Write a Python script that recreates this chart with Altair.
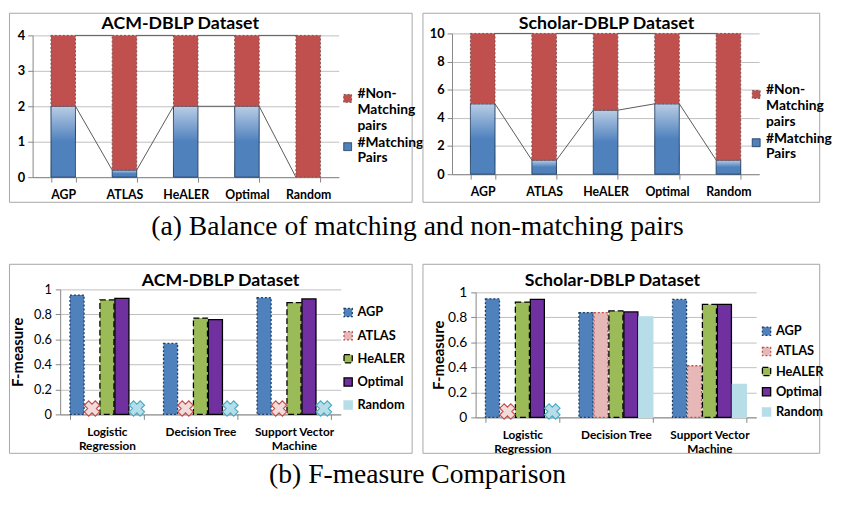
import altair as alt
import pandas as pd

# ---------------- data ----------------
methods = ["AGP", "ATLAS", "HeALER", "Optimal", "Random"]
pair_series = ["#Non-Matching pairs", "#Matching Pairs"]
acm_matching = [2.0, 0.2, 2.0, 2.0, 0.0]
acm_total = [4.0, 4.0, 4.0, 4.0, 4.0]
scholar_matching = [5.0, 1.0, 4.55, 5.0, 1.0]
scholar_total = [10.0, 10.0, 10.0, 10.0, 10.0]

classifiers = ["Logistic Regression", "Decision Tree", "Support Vector Machine"]
fseries = ["AGP", "ATLAS", "HeALER", "Optimal", "Random"]
acm_agp = [0.955, 0.568, 0.934]
acm_atlas = [0.0, 0.0, 0.0]
acm_healer = [0.916, 0.771, 0.895]
acm_optimal = [0.929, 0.758, 0.924]
acm_random = [0.0, 0.0, 0.0]
sch_agp = [0.948, 0.838, 0.943]
sch_atlas = [0.0, 0.838, 0.413]
sch_healer = [0.922, 0.851, 0.903]
sch_optimal = [0.943, 0.843, 0.903]
sch_random = [0.0, 0.804, 0.264]

caption_a = "(a) Balance of matching and non-matching pairs"
caption_b = "(b) F-measure Comparison"

# ---------------- style ----------------
FONT = "Lato"
SERIF = "Liberation Serif"
AXIS_GRAY = "#868686"
GRID_GRAY = "#BFBFBF"
GRAD = {"gradient": "linear", "x1": 0, "y1": 0, "x2": 0, "y2": 1,
        "stops": [{"offset": 0, "color": "#B9CDE5"},
                  {"offset": 0.5, "color": "#4F81BD"},
                  {"offset": 1, "color": "#4F81BD"}]}
ffill = ["#4F81BD", "#E6B9B8", "#9BBB59", "#7030A0", "#B7DEE8"]
fstroke = ["#1F3F66", "#C0504D", "#000000", "#000000", "#B7DEE8"]
fdash = [[2, 2], [2, 2], [6, 3], [1, 0], [1, 0]]
MARK_Y = 0.047


def text_layer(txt, x, y, font, size, weight):
    return alt.Chart(pd.DataFrame({"t": [txt]})).mark_text(
        font=font, fontSize=size, fontWeight=weight, color="#000000",
        align="center", baseline="middle"
    ).encode(text="t:N", x=alt.value(x), y=alt.value(y))


def balance_panel(title, matching, total, ymax, ystep, W, H, px, py, tpos, lpos, cap=None):
    rows = []
    for m, mv, tv in zip(methods, matching, total):
        rows.append({"method": m, "series": pair_series[1], "lo": 0.0, "hi": mv})
        rows.append({"method": m, "series": pair_series[0], "lo": mv, "hi": tv})
    df = pd.DataFrame(rows)
    df = df[df["hi"] > df["lo"]]
    seg = pd.DataFrame({"a": methods[:-1], "b": methods[1:],
                        "m0": matching[:-1], "m1": matching[1:],
                        "t0": total[:-1], "t1": total[1:]})
    xs = alt.Scale(domain=methods, range=list(px), paddingInner=0.6, paddingOuter=0.3)
    ys = alt.Scale(domain=[0, ymax], range=[py[1], py[0]], nice=False, zero=True)
    xaxis = alt.Axis(title=None, offset=-(H - py[1]), tickBand="extent", labelAngle=0,
                     labelFont=FONT, labelFontSize=12.5, labelFontWeight="bold",
                     labelColor="#000000", labelPadding=7, tickSize=5,
                     tickColor=AXIS_GRAY, domainColor=AXIS_GRAY, grid=False)
    yaxis = alt.Axis(title=None, offset=-px[0], values=list(range(0, ymax + 1, ystep)),
                     labelFont=FONT, labelFontSize=13, labelFontWeight="bold",
                     labelColor="#000000", labelPadding=3, tickSize=5,
                     tickColor=AXIS_GRAY, domainColor=AXIS_GRAY,
                     grid=True, gridColor=GRID_GRAY)
    legend = alt.Legend(orient="none", legendX=lpos[0], legendY=lpos[1], title=None,
                        symbolType="square", symbolSize=64, symbolStrokeColor="#404040",
                        symbolStrokeWidth=1, labelFont=FONT, labelFontSize=14,
                        labelFontWeight="bold", labelColor="#000000", labelOffset=3,
                        labelBaseline="alphabetic", labelLimit=200, rowPadding=3,
                        labelExpr="datum.label == '#Matching Pairs' ? ['#Matching', 'Pairs'] : ['#Non-', 'Matching', 'pairs']")
    bars = alt.Chart(df).mark_bar(strokeWidth=1).encode(
        x=alt.X("method:N", scale=xs, axis=xaxis),
        y=alt.Y("lo:Q", scale=ys, axis=yaxis),
        y2="hi:Q",
        fill=alt.condition("datum.series === '#Matching Pairs'", alt.value(GRAD),
                           alt.Fill("series:N", scale=alt.Scale(domain=pair_series, range=["#C0504D", "#4F81BD"]),
                                    legend=legend)),
        stroke=alt.Stroke("series:N", scale=alt.Scale(domain=pair_series, range=["#7A5050", "#243F60"]), legend=None),
        strokeDash=alt.StrokeDash("series:N", scale=alt.Scale(domain=pair_series, range=[[2, 2], [1, 0]]), legend=None),
    )
    link = alt.Chart(seg).mark_rule(color="#595959", strokeWidth=1)
    lm = link.encode(x=alt.X("a:N", scale=xs, bandPosition=1, axis=xaxis),
                     x2=alt.X2("b:N", bandPosition=0),
                     y=alt.Y("m0:Q", scale=ys, axis=yaxis), y2="m1:Q")
    lt = link.encode(x=alt.X("a:N", scale=xs, bandPosition=1, axis=xaxis),
                     x2=alt.X2("b:N", bandPosition=0),
                     y=alt.Y("t0:Q", scale=ys, axis=yaxis), y2="t1:Q")
    layers = [bars, lm, lt, text_layer(title, tpos[0], tpos[1], FONT, 18, "bold")]
    if cap:
        layers.append(text_layer(cap[0], cap[1], cap[2], SERIF, 28, "normal"))
    return alt.layer(*layers).properties(width=W, height=H)


def fmeasure_panel(title, series_values, W, H, px, py, tpos, lpos, rowpad, ytp, ylab, cap=None):
    rows = []
    for s, vals in zip(fseries, series_values):
        for c, v in zip(classifiers, vals):
            rows.append({"clf": c, "series": s, "f": v})
    df = pd.DataFrame(rows)
    xs = alt.Scale(domain=classifiers, range=list(px), paddingInner=0.21, paddingOuter=0.105)
    os_ = alt.Scale(domain=fseries, paddingInner=0.06)
    ys = alt.Scale(domain=[0, 1], range=[py[1], py[0]], nice=False)
    xaxis = alt.Axis(title=None, offset=-(H - py[1]), tickBand="extent", labelAngle=0,
                     labelFont=FONT, labelFontSize=12, labelFontWeight="bold",
                     labelColor="#000000", labelPadding=7, labelLineHeight=15,
                     labelOverlap=False, tickSize=5, tickColor=AXIS_GRAY,
                     domainColor=AXIS_GRAY, grid=False,
                     labelExpr="datum.label == 'Logistic Regression' ? ['Logistic', 'Regression'] : datum.label == 'Support Vector Machine' ? ['Support Vector', 'Machine'] : datum.label")
    yaxis = alt.Axis(title="F-measure", titleFont=FONT, titleFontSize=15, titleFontWeight="bold",
                     titleColor="#000000", titlePadding=ytp, offset=-px[0],
                     values=[0, 0.2, 0.4, 0.6, 0.8, 1], format=".1~f",
                     labelFont=FONT, labelFontSize=ylab, labelColor="#000000",
                     labelPadding=4, tickSize=5, tickColor=AXIS_GRAY,
                     domainColor=AXIS_GRAY, grid=True, gridColor=GRID_GRAY)
    legend = alt.Legend(orient="none", legendX=lpos[0], legendY=lpos[1], title=None,
                        symbolType="square", symbolSize=70, symbolStrokeWidth=1.3,
                        labelFont=FONT, labelFontSize=13, labelFontWeight="bold",
                        labelColor="#000000", labelOffset=3, rowPadding=rowpad)
    bars = alt.Chart(df).transform_filter("datum.f > 0").mark_bar(strokeWidth=1.3).encode(
        x=alt.X("clf:N", scale=xs, axis=xaxis),
        xOffset=alt.XOffset("series:N", scale=os_),
        y=alt.Y("f:Q", scale=ys, axis=yaxis),
        fill=alt.Fill("series:N", scale=alt.Scale(domain=fseries, range=ffill), legend=legend),
        stroke=alt.Stroke("series:N", scale=alt.Scale(domain=fseries, range=fstroke), legend=legend),
        strokeDash=alt.StrokeDash("series:N", scale=alt.Scale(domain=fseries, range=fdash), legend=legend),
    )
    marks = alt.Chart(df).transform_filter("datum.f == 0").mark_point(
        shape="cross", angle=45, filled=True, size=250, strokeWidth=1.2, opacity=1
    ).encode(
        x=alt.X("clf:N", scale=xs, axis=xaxis),
        xOffset=alt.XOffset("series:N", scale=os_),
        y=alt.YDatum(MARK_Y, scale=ys, axis=yaxis),
        fill=alt.condition("datum.series === 'ATLAS'", alt.value("#F2DCDB"), alt.value("#B7DEE8")),
        stroke=alt.condition("datum.series === 'ATLAS'", alt.value("#C0504D"), alt.value("#4BACC6")),
    )
    layers = [bars, marks, text_layer(title, tpos[0], tpos[1], FONT, 18, "bold")]
    if cap:
        layers.append(text_layer(cap[0], cap[1], cap[2], SERIF, 28, "normal"))
    return alt.layer(*layers).properties(width=W, height=H)


tl = balance_panel("ACM-DBLP Dataset", acm_matching, acm_total, 4, 1, W=409, H=192,
                   px=(24, 335), py=(23, 167), tpos=(174, 11), lpos=(337, 80),
                   cap=(caption_a, 415, 218))
tr = balance_panel("Scholar-DBLP Dataset", scholar_matching, scholar_total, 10, 2, W=403, H=192,
                   px=(30, 342), py=(21, 164), tpos=(187, 11), lpos=(332, 76))
bl = fmeasure_panel("ACM-DBLP Dataset", [acm_agp, acm_atlas, acm_healer, acm_optimal, acm_random],
                    W=409, H=192, px=(52, 337), py=(26, 153), tpos=(215, 18), lpos=(338, 43),
                    rowpad=8.5, ytp=8, ylab=13, cap=(caption_b, 415, 215))
br = fmeasure_panel("Scholar-DBLP Dataset", [sch_agp, sch_atlas, sch_healer, sch_optimal, sch_random],
                    W=403, H=192, px=(54, 339), py=(29, 156), tpos=(193, 18), lpos=(343, 62),
                    rowpad=5.5, ytp=1, ylab=14)

chart = alt.concat(tl, tr, bl, br, columns=2, spacing={"row": 63, "column": 11},
                   bounds="flush").resolve_scale(
    fill="independent", stroke="independent", strokeDash="independent"
).resolve_legend(
    fill="independent", stroke="independent", strokeDash="independent"
).properties(padding=0).configure_view(stroke="#A6A6A6", strokeWidth=1)

chart.save("out.html", embed_options={"renderer": "svg", "actions": False})
